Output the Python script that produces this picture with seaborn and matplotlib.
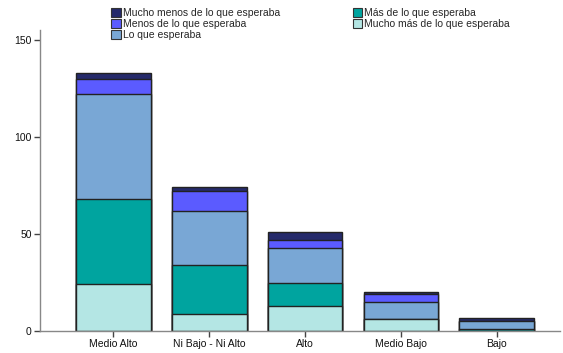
import numpy as np
import pandas as pd
import matplotlib
matplotlib.use("Agg")
import matplotlib.pyplot as plt
from matplotlib.patches import Patch
import seaborn as sns

categories = ["Medio Alto", "Ni Bajo - Ni Alto", "Alto", "Medio Bajo", "Bajo"]

# stacked from the bottom up
mucho_mas = [24, 9, 13, 6, 0]
mas = [44, 25, 12, 0, 1]
lo_que = [54, 28, 18, 9, 4]
menos = [8, 10, 4, 4, 0]
mucho_menos = [3, 2, 4, 1, 2]

series = [
    ("Mucho más de lo que esperaba", mucho_mas, "#b4e6e4"),
    ("Más de lo que esperaba", mas, "#00a49f"),
    ("Lo que esperaba", lo_que, "#79a7d5"),
    ("Menos de lo que esperaba", menos, "#5b5bff"),
    ("Mucho menos de lo que esperaba", mucho_menos, "#252a6b"),
]

sns.set_theme(style="white")
plt.rcParams["font.family"] = ["Liberation Sans", "DejaVu Sans"]

fig = plt.figure(figsize=(5.63, 3.53), dpi=100)
ax = fig.add_axes([0.071, 0.062, 0.924, 0.853])

# cumulative tops for each layer; draw tallest first so lower layers overlay
tops = np.cumsum([np.array(v) for _, v, _ in series], axis=0)
for (name, _, color), top in reversed(list(zip(series, tops))):
    df = pd.DataFrame({"cat": categories, "val": top})
    sns.barplot(data=df, x="cat", y="val", color=color, width=0.78,
                edgecolor="#222222", linewidth=1.0, saturation=1, ax=ax,
                order=categories)

ax.set_ylim(0, 155)
ax.set_xlim(-0.763, 4.66)
ax.set_yticks([0, 50, 100, 150])
ax.set_xlabel("")
ax.set_ylabel("")
for s in ["top", "right"]:
    ax.spines[s].set_visible(False)
for s in ["left", "bottom"]:
    ax.spines[s].set_color("#888888")
    ax.spines[s].set_linewidth(1.0)
ax.tick_params(axis="both", which="both", length=4, width=1, color="#444444",
               labelsize=7.5, labelcolor="#111111", pad=2, direction="out")
ax.tick_params(axis="x", bottom=True)
ax.tick_params(axis="y", left=True)

legend_order = [4, 3, 2, 1, 0]
handles = [Patch(facecolor=series[i][2], edgecolor="#333333", linewidth=0.8,
                 label=series[i][0]) for i in legend_order]
fig.legend(handles=handles, loc="upper left", bbox_to_anchor=(0.185, 0.998),
           ncol=2, frameon=False, fontsize=7.5, handlelength=0.9,
           handleheight=0.9, handletextpad=0.2, columnspacing=7.0,
           labelspacing=0.1, borderpad=0.2)

fig.savefig("out.png", dpi=100)
